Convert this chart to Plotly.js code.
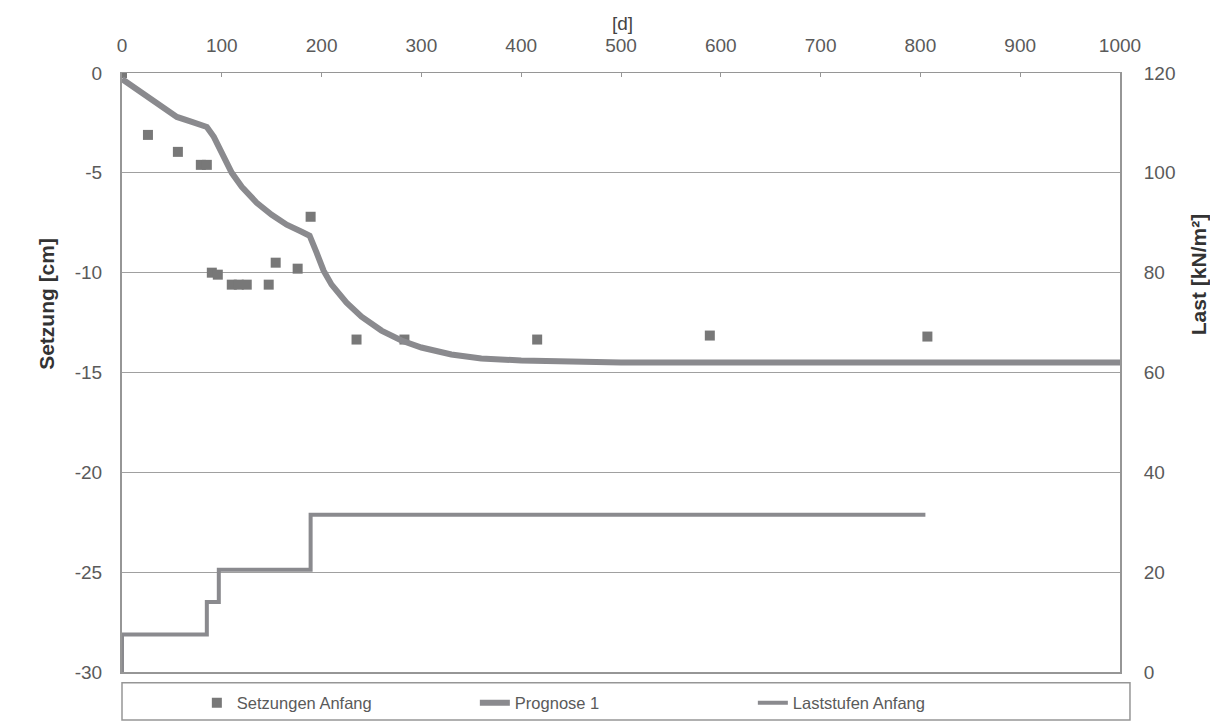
<!DOCTYPE html>
<html>
<head>
<meta charset="utf-8">
<script src="https://cdn.plot.ly/plotly-3.0.1.min.js"></script>
<style>html,body{margin:0;padding:0;background:#fff;}#chart{width:1210px;height:724px;}</style>
</head>
<body>
<div id="chart"></div>
<script>
// Setzungen Anfang (measured settlements) [d], [cm]
const setzTage = [0, 26, 56, 79, 85, 90, 96, 110, 117, 125, 147, 154, 176, 189, 235, 283, 416, 589, 807];
const setzWerte = [0, -3.1, -3.95, -4.6, -4.6, -10.0, -10.1, -10.6, -10.6, -10.6, -10.6, -9.5, -9.8, -7.2, -13.35, -13.35, -13.35, -13.15, -13.2];

// Prognose 1 [d], [cm]
const progTage = [0, 20, 40, 55, 70, 85, 92, 100, 110, 120, 135, 150, 165, 180, 188, 195, 202, 210, 225, 240, 260, 280, 300, 330, 360, 400, 450, 500, 600, 800, 1000];
const progWerte = [-0.3, -1.0, -1.7, -2.2, -2.45, -2.7, -3.2, -4.0, -5.0, -5.7, -6.5, -7.1, -7.6, -7.95, -8.15, -9.0, -9.9, -10.6, -11.5, -12.2, -12.9, -13.4, -13.75, -14.1, -14.3, -14.4, -14.45, -14.5, -14.5, -14.5, -14.5];

// Laststufen Anfang [d], [kN/m²]
const lastTage = [0, 0, 85, 97, 189, 805];
const lastWerte = [0, 7.5, 14, 20.5, 31.5, 31.5];

const xTicks = [0, 100, 200, 300, 400, 500, 600, 700, 800, 900, 1000];
const yTicks = [0, -5, -10, -15, -20, -25, -30];
const y2Ticks = [120, 100, 80, 60, 40, 20, 0];

const grey = 'rgb(120,120,120)';
const lineGrey = 'rgb(138,138,142)';
const txt = '#5a5a5a';
const font = 'Liberation Sans, Arial, sans-serif';

const traces = [
  {x: setzTage, y: setzWerte, type: 'scatter', mode: 'markers', name: 'Setzungen Anfang',
   marker: {symbol: 'square', size: 10, color: grey}, yaxis: 'y'},
  {x: progTage, y: progWerte, type: 'scatter', mode: 'lines', name: 'Prognose 1',
   line: {color: lineGrey, width: 6}, yaxis: 'y'},
  {x: lastTage, y: lastWerte, type: 'scatter', mode: 'lines', name: 'Laststufen Anfang',
   line: {color: lineGrey, width: 4, shape: 'hv'}, yaxis: 'y2'}
];

const layout = {
  width: 1210, height: 724,
  margin: {l: 122, r: 90, t: 73, b: 52, autoexpand: false},
  paper_bgcolor: '#fff', plot_bgcolor: '#fff',
  font: {family: font, color: txt, size: 20},
  showlegend: true,
  legend: {orientation: 'h', x: 0.075, y: -0.052, xanchor: 'left', yanchor: 'middle',
           entrywidth: 233, entrywidthmode: 'pixels', font: {size: 16.5, color: txt},
           bgcolor: 'rgba(0,0,0,0)', traceorder: 'normal'},
  xaxis: {side: 'top', range: [0, 1000], tickvals: xTicks, ticktext: xTicks.map(String),
          showgrid: false, zeroline: false, showline: true, mirror: true, linecolor: 'rgb(150,150,150)', linewidth: 1.5,
          ticks: 'inside', ticklen: 4, tickcolor: 'rgb(150,150,150)', ticklabelstandoff: 12,
          tickfont: {size: 19, color: txt}},
  yaxis: {range: [-30, 0], tickvals: yTicks, ticktext: yTicks.map(String), showgrid: true,
          gridcolor: 'rgb(160,160,160)', gridwidth: 1, zeroline: false, showline: true,
          linecolor: 'rgb(150,150,150)', linewidth: 2, ticks: '', ticklabelstandoff: 14,
          tickfont: {size: 19, color: txt}},
  yaxis2: {range: [0, 120], overlaying: 'y', side: 'right', tickvals: y2Ticks, ticktext: y2Ticks.map(String),
           showgrid: false, zeroline: false, showline: true, linecolor: 'rgb(150,150,150)', linewidth: 2,
           ticks: '', ticklabelstandoff: 18, tickfont: {size: 19, color: txt}},
  annotations: [
    {text: '[d]', xref: 'paper', yref: 'paper', x: 0.502, y: 1.083, xanchor: 'center', yanchor: 'middle',
     showarrow: false, font: {size: 19, color: '#444'}},
    {text: 'Setzung [cm]', xref: 'paper', yref: 'paper', x: -0.0755, y: 0.614, xanchor: 'center', yanchor: 'middle',
     textangle: -90, showarrow: false, font: {size: 21, color: '#333', weight: 'bold'}},
    {text: 'Last [kN/m²]', xref: 'paper', yref: 'paper', x: 1.0795, y: 0.663, xanchor: 'center', yanchor: 'middle',
     textangle: -90, showarrow: false, font: {size: 21, color: '#333', weight: 'bold'}}
  ],
  shapes: [{type: 'rect', xref: 'paper', yref: 'paper', x0: 0, x1: 1.01, y0: -0.08, y1: -0.018,
            line: {color: 'rgb(150,150,150)', width: 1.5}, fillcolor: 'rgba(0,0,0,0)'}]
};

Plotly.newPlot('chart', traces, layout, {displayModeBar: false, staticPlot: true});
</script>
</body>
</html>
